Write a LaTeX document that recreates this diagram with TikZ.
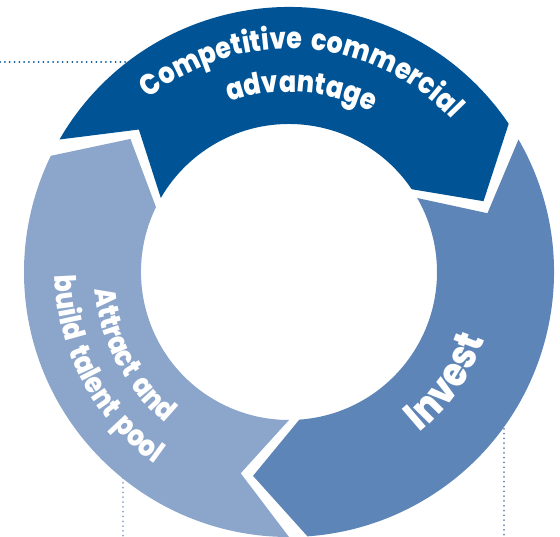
\documentclass[tikz,border=0pt]{standalone}
\usepackage{fontspec}
\setmainfont{Poppins}
\newfontfamily\heavyfont{Poppins}[UprightFont=* ExtraBold, FakeStretch=0.86, WordSpace=1.7]
\usetikzlibrary{decorations.text}
\definecolor{cdark}{RGB}{0,84,150}
\definecolor{cmid}{RGB}{94,133,183}
\definecolor{clight}{RGB}{139,165,203}
\newcommand\ringfont{\heavyfont\fontsize{29.5}{29.5}\selectfont}
\newcommand\bigringfont{\heavyfont\fontsize{41}{41}\selectfont}
\tikzset{
  dotline/.style={line width=2pt, dash pattern=on 0.01pt off 4.8pt, line cap=round},
  ringtext/.style={decorate, decoration={text along path, text align=center, text color=white, text={#1}}}
}
\begin{document}
\begin{tikzpicture}[x=1pt,y=1pt]
\useasboundingbox (-289,-265) rectangle (271,272);
% segments: T = tail angle, H = head angle
\fill[cdark] (150:265) arc[start angle=150,end angle=34,radius=265] -- (20:207) -- (34:148)
  arc[start angle=34,end angle=150,radius=148] -- (136.5:207) -- cycle;
\fill[cmid] (30:265) arc[start angle=30,end angle=-86,radius=265] -- (-100:207) -- (-86:148)
  arc[start angle=-86,end angle=30,radius=148] -- (16.5:207) -- cycle;
\fill[clight] (-90:265) arc[start angle=-90,end angle=-206,radius=265] -- (-220:207) -- (-206:148)
  arc[start angle=-206,end angle=-90,radius=148] -- (-103.5:207) -- cycle;
% labels
\path[ringtext={|\ringfont|Competitive commercial}] (136:223) arc[start angle=136,end angle=36,radius=223];
\path[ringtext={|\ringfont|advantage}] (136:180) arc[start angle=136,end angle=36,radius=180];
\path[ringtext={|\ringfont|Attract and}] (158:195) arc[start angle=158,end angle=258,radius=195];
\path[ringtext={|\ringfont|build talent pool}] (158:234) arc[start angle=158,end angle=258,radius=234];
\path[ringtext={|\bigringfont|Invest}] (-75:207) arc[start angle=-75,end angle=5,radius=207];
% dotted leader lines
\coordinate (ta) at (-159,210);
\coordinate (tb) at (-289,210);
\coordinate (la) at (-166,-206);
\coordinate (lb) at (-166,-265);
\coordinate (ra) at (215,-152);
\coordinate (rb) at (215,-265);
\draw[dotline,cdark] (ta) -- (tb);
\draw[dotline,clight] (la) -- (lb);
\draw[dotline,cmid] (ra) -- (rb);
\end{tikzpicture}
\end{document}
